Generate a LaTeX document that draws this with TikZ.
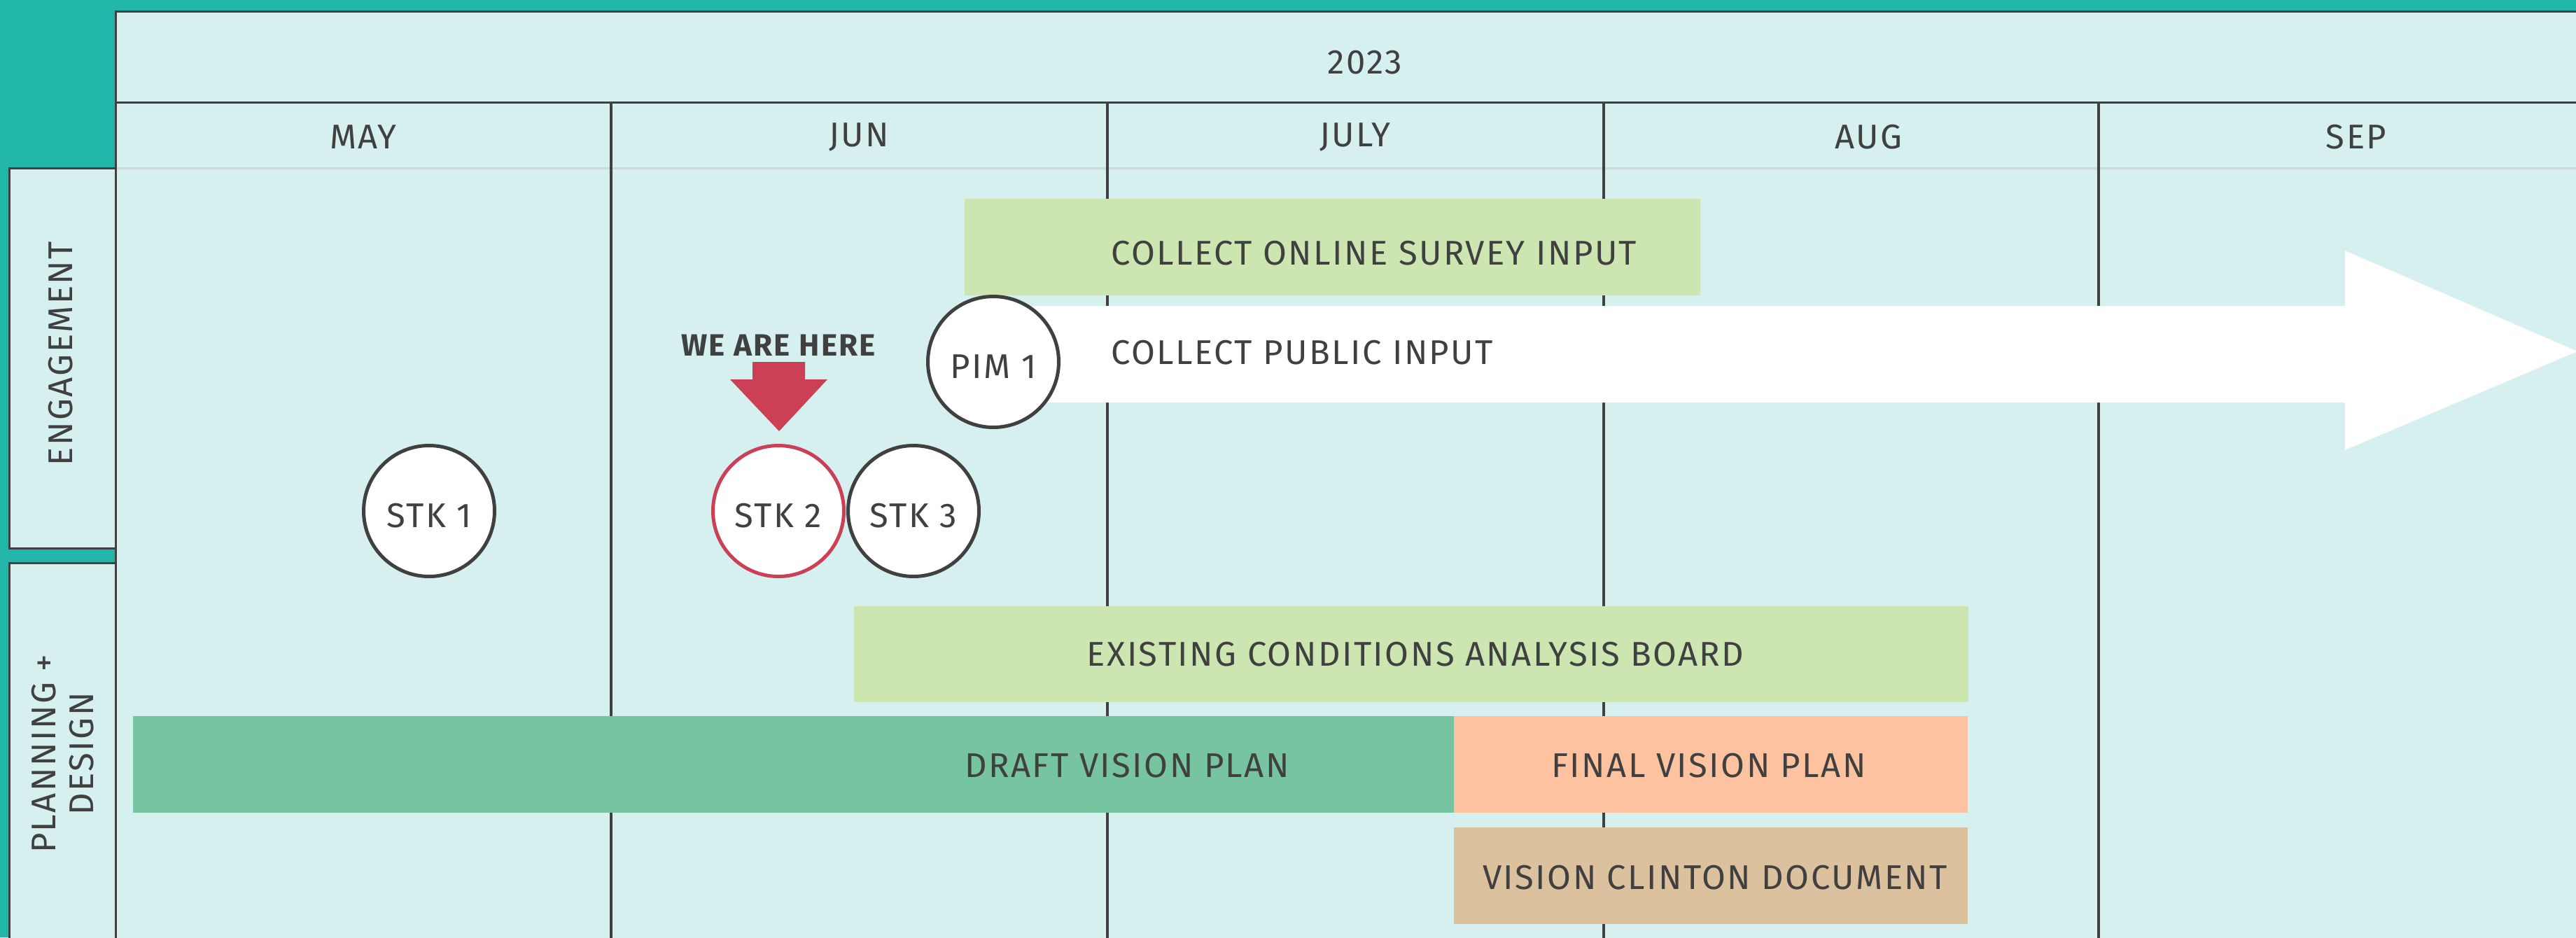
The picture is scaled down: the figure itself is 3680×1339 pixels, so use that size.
\documentclass[tikz,border=0pt]{standalone}
\usepackage{fontspec}
\setmainfont{Fira Sans}[LetterSpace=5]
\definecolor{tealbg}{HTML}{22B5AA}
\definecolor{panel}{HTML}{D5F0EE}
\definecolor{ink}{HTML}{404040}
\definecolor{gridgray}{HTML}{CFD8D7}
\definecolor{greenA}{HTML}{CDE5B1}
\definecolor{greenB}{HTML}{77C4A0}
\definecolor{peach}{HTML}{FDC3A0}
\definecolor{tan}{HTML}{DBC19D}
\definecolor{here}{HTML}{CC4055}
\begin{document}
\begin{tikzpicture}[x=1pt,y=-1pt,
  txt/.style={font=\fontsize{49}{54}\selectfont, text=ink, inner sep=0pt},
  boldtxt/.style={font=\fontsize{44}{50}\selectfont\bfseries, text=ink, inner sep=0pt},
  bar/.style={draw=none, inner sep=0pt, anchor=north west},
  milestone/.style={circle, draw=ink, line width=5pt, fill=white, minimum size=187pt, inner sep=0pt, font=\fontsize{49}{54}\selectfont, text=ink, text height=46pt, text depth=0pt},
  gridline/.style={draw=ink, line width=4pt},
  lanebox/.style={fill=panel, draw=ink, line width=3pt}
]
\useasboundingbox (0,0) rectangle (3680,1339);
\fill[tealbg] (0,0) rectangle (3680,1339);
% main panel
\filldraw[fill=panel, draw=ink, line width=3pt] (165,16) rectangle (3700,1360);
\draw[draw=ink, line width=3pt] (165,146) -- (3700,146);
\draw[draw=gridgray, line width=3pt] (165,240) -- (3700,240);
\foreach \xx in {873,1582,2291,2998} \draw[gridline] (\xx,146) -- (\xx,1360);
% lane boxes
\filldraw[lanebox] (13,240) rectangle (165,783);
\filldraw[lanebox] (13,804) rectangle (165,1360);
% header text
\node[txt] (year) at (1950,89) {2023};
\node[txt] (may) at (519,196) {MAY};
\node[txt] (jun) at (1227,196) {JUN};
\node[txt] (jul) at (1936,196) {JULY};
\node[txt] (aug) at (2669,196) {AUG};
\node[txt] (sep) at (3366,196) {SEP};
\node[txt, rotate=90] (eng) at (87,505) {ENGAGEMENT};
\node[txt, rotate=90, align=center] (plan) at (90,1077) {PLANNING +\\DESIGN};
% bars
\node[bar, fill=greenA, minimum width=1051pt, minimum height=138pt] (survey) at (1378,284) {};
\node[bar, fill=greenA, minimum width=1592pt, minimum height=137pt] (exist) at (1220,866) {};
\node[bar, fill=greenB, minimum width=1887pt, minimum height=138pt] (draft) at (190,1023) {};
\node[bar, fill=peach, minimum width=734pt, minimum height=138pt] (final) at (2077,1023) {};
\node[bar, fill=tan, minimum width=734pt, minimum height=138pt] (doc) at (2077,1182) {};
% white arrow
\fill[white] (1419,437) -- (3350,437) -- (3350,358) -- (3682,502) -- (3350,643) -- (3350,575) -- (1419,575) -- cycle;
% red arrow
\fill[here] (1075,517) -- (1150,517) -- (1150,542) -- (1182,542) -- (1113,616) -- (1043,542) -- (1075,542) -- cycle;
% milestones
\node[milestone] (pim1) at (1419,517) {PIM 1};
\node[milestone] (stk1) at (613,730) {STK 1};
\node[milestone, draw=here] (stk2) at (1112,730) {STK 2};
\node[milestone] (stk3) at (1305,730) {STK 3};
% labels
\node[boldtxt] (wah) at (1112,493) {WE ARE HERE};
\node[txt, anchor=west] (surveyt) at (1587,362) {COLLECT ONLINE SURVEY INPUT};
\node[txt, anchor=west] (publict) at (1587,504) {COLLECT PUBLIC INPUT};
\node[txt] (existt) at (2022,935) {EXISTING CONDITIONS ANALYSIS BOARD};
\node[txt] (draftt) at (1610,1094) {DRAFT VISION PLAN};
\node[txt] (finalt) at (2441,1094) {FINAL VISION PLAN};
\node[txt] (doct) at (2450,1254) {VISION CLINTON DOCUMENT};
\end{tikzpicture}
\end{document}
